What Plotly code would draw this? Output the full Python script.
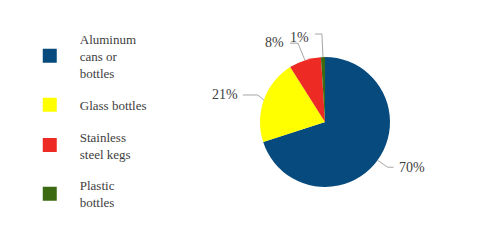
import math
import plotly.graph_objects as go

categories = ["Aluminum cans or bottles", "Glass bottles", "Stainless steel kegs", "Plastic bottles"]
legend_labels = ["Aluminum<br>cans or<br>bottles", "Glass bottles", "Stainless<br>steel kegs", "Plastic<br>bottles"]
shares = [70, 21, 8, 1]
colors = ["#074A7E", "#FFFF00", "#EE2A25", "#3C6A12"]

W, H = 494, 244
cx, cy, r = 325, 122, 65
FONT = "Times New Roman, Liberation Serif, DejaVu Serif, serif"
TXT = "#404040"

fig = go.Figure()
fig.add_trace(go.Pie(
    labels=categories, values=shares, sort=False, direction="clockwise", rotation=0,
    marker=dict(colors=colors, line=dict(width=0)), textinfo="none",
    hoverinfo="label+percent", showlegend=False,
    domain=dict(x=[(cx - r) / W, (cx + r) / W], y=[(H - cy - r) / H, (H - cy + r) / H]),
))

for name, color in zip(legend_labels, colors):
    fig.add_trace(go.Scatter(
        x=[None], y=[None], mode="markers", name=name, legendgroup=name,
        marker=dict(symbol="square", size=14, color=color), showlegend=True,
    ))

# leader-line geometry (layout offsets, relative to slice edge point)
leader = [
    dict(elbow=(10, 7), end=(16, 7), text=(19, 7), anchor="left"),
    dict(elbow=(-6, -5), end=(-21, -5), text=(-24, -5), anchor="right"),
    dict(elbow=(-7, -17), end=(-15, -17), text=(-19, -18), anchor="right"),
    dict(elbow=(-1, -23), end=(-8, -23), text=(-12, -20), anchor="right"),
]

def px(x, y):
    return x / W, 1 - y / H

total = sum(shares)
cum = 0
shapes = []
annotations = []
for v, L in zip(shares, leader):
    mid = (cum + v / 2) / total * 2 * math.pi
    cum += v
    ex, ey = cx + r * math.sin(mid), cy - r * math.cos(mid)
    pts = [(ex, ey), (ex + L["elbow"][0], ey + L["elbow"][1]), (ex + L["end"][0], ey + L["end"][1])]
    path = "M " + " L ".join("%.4f %.4f" % px(*p) for p in pts)
    shapes.append(dict(type="path", xref="paper", yref="paper", path=path,
                       line=dict(color="#A6A6A6", width=1)))
    tx, ty = px(ex + L["text"][0], ey + L["text"][1])
    annotations.append(dict(xref="paper", yref="paper", x=tx, y=ty, text="%d%%" % round(v / total * 100),
                            showarrow=False, xanchor=L["anchor"], yanchor="middle",
                            font=dict(family=FONT, size=14, color=TXT)))

fig.update_layout(
    width=W, height=H, margin=dict(l=0, r=0, t=0, b=0),
    paper_bgcolor="white", plot_bgcolor="white",
    xaxis=dict(visible=False), yaxis=dict(visible=False),
    shapes=shapes, annotations=annotations,
    legend=dict(x=0.04, y=1 - 24 / H, xanchor="left", yanchor="top",
                font=dict(family=FONT, size=13, color=TXT),
                tracegroupgap=12, itemwidth=50, traceorder="grouped", valign="middle"),
    showlegend=True,
)

fig.write_html("out.html")
